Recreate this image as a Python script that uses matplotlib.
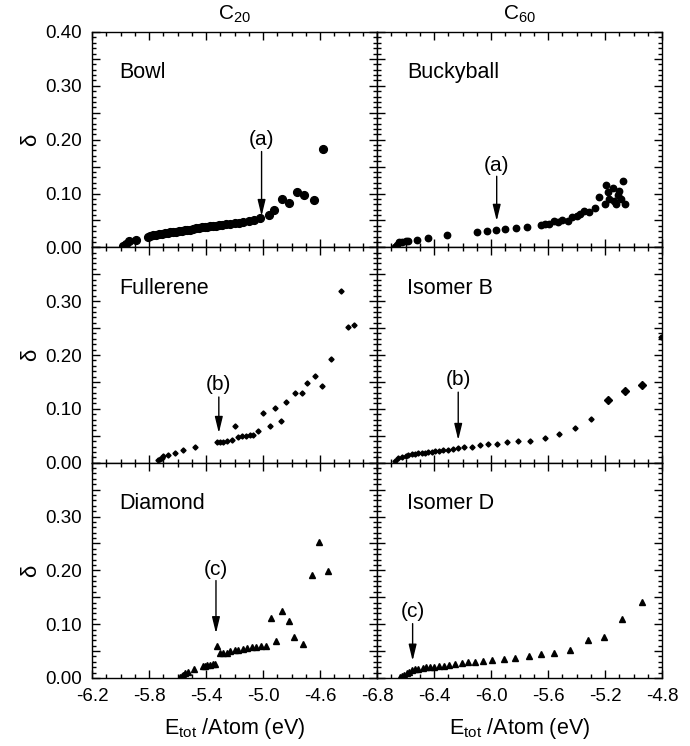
import matplotlib
matplotlib.use('Agg')
import matplotlib.pyplot as plt
from matplotlib.ticker import FixedLocator, MultipleLocator, FuncFormatter

plt.rcParams['font.family'] = ['Liberation Sans', 'DejaVu Sans']
plt.rcParams['mathtext.fontset'] = 'custom'
plt.rcParams['mathtext.rm'] = 'Liberation Sans'
plt.rcParams['mathtext.it'] = 'Liberation Sans:italic'
plt.rcParams['mathtext.default'] = 'regular'
plt.rcParams['axes.unicode_minus'] = False

# ---------------- data ----------------
bowl_x = [-5.98, -5.96, -5.94, -5.89, -5.81, -5.79, -5.77, -5.75, -5.73, -5.71, -5.69, -5.67,
          -5.65, -5.63, -5.61, -5.59, -5.57, -5.55, -5.53, -5.51, -5.49, -5.47, -5.45, -5.43,
          -5.41, -5.39, -5.37, -5.35, -5.33, -5.31, -5.29, -5.26, -5.23, -5.20, -5.17, -5.14,
          -5.10, -5.06, -5.02, -4.96, -4.92, -4.87, -4.82, -4.76, -4.71, -4.64, -4.58]
bowl_y = [0.003, 0.007, 0.012, 0.014, 0.020, 0.021, 0.022, 0.023, 0.024, 0.025, 0.026, 0.027,
          0.028, 0.029, 0.029, 0.030, 0.031, 0.032, 0.033, 0.033, 0.034, 0.035, 0.036, 0.037,
          0.037, 0.038, 0.039, 0.040, 0.040, 0.041, 0.042, 0.043, 0.044, 0.045, 0.046, 0.047,
          0.048, 0.050, 0.054, 0.060, 0.069, 0.089, 0.082, 0.103, 0.097, 0.087, 0.182]

bucky_x = [-6.674, -6.66, -6.645, -6.627, -6.60, -6.58, -6.517, -6.44, -6.31, -6.096, -6.03,
           -5.967, -5.90, -5.825, -5.75, -5.65, -5.62, -5.59, -5.558, -5.53, -5.50, -5.46,
           -5.43, -5.40, -5.375, -5.345, -5.31, -5.27, -5.24, -5.20, -5.19, -5.18, -5.17,
           -5.146, -5.134, -5.125, -5.106, -5.10, -5.09, -5.074, -5.06]
bucky_y = [0.000, 0.005, 0.009, 0.0105, 0.011, 0.012, 0.014, 0.017, 0.022, 0.029, 0.031,
           0.033, 0.034, 0.036, 0.038, 0.041, 0.043, 0.044, 0.048, 0.047, 0.051, 0.048,
           0.056, 0.059, 0.061, 0.068, 0.065, 0.073, 0.094, 0.080, 0.115, 0.103, 0.090,
           0.110, 0.086, 0.080, 0.097, 0.104, 0.089, 0.124, 0.081]

full_x = [-5.734, -5.723, -5.71, -5.70, -5.664, -5.617, -5.56, -5.477, -5.32, -5.30, -5.278,
          -5.255, -5.22, -5.20, -5.178, -5.15, -5.12, -5.09, -5.068, -5.033, -4.998, -4.95,
          -4.916, -4.874, -4.84, -4.775, -4.726, -4.689, -4.635, -4.584, -4.525, -4.455,
          -4.406, -4.36]
full_y = [0.005, 0.007, 0.009, 0.012, 0.015, 0.018, 0.023, 0.029, 0.038, 0.0386, 0.039,
          0.040, 0.043, 0.068, 0.048, 0.050, 0.050, 0.051, 0.052, 0.059, 0.093, 0.0685,
          0.1016, 0.078, 0.113, 0.129, 0.130, 0.148, 0.1616, 0.143, 0.192, 0.319,
          0.252, 0.256]

isoB_x = [-6.674, -6.65, -6.627, -6.60, -6.58, -6.557, -6.533, -6.51, -6.487, -6.463, -6.44,
          -6.416, -6.393, -6.365, -6.334, -6.304, -6.27, -6.234, -6.187, -6.136, -6.077,
          -6.02, -5.958, -5.888, -5.808, -5.726, -5.62, -5.525, -5.41, -5.30, -5.177,
          -5.06, -4.943, -4.81]
isoB_y = [0.0035, 0.008, 0.011, 0.0127, 0.0145, 0.0157, 0.017, 0.0176, 0.018, 0.0188, 0.020,
          0.0206, 0.021, 0.0218, 0.023, 0.024, 0.0255, 0.027, 0.029, 0.030, 0.032,
          0.034, 0.035, 0.038, 0.040, 0.041, 0.045, 0.054, 0.064, 0.082, 0.117,
          0.134, 0.144, 0.2335]

dia_x = [-5.582, -5.57, -5.56, -5.547, -5.524, -5.484, -5.42, -5.405, -5.39, -5.37, -5.353,
         -5.337, -5.325, -5.30, -5.278, -5.255, -5.23, -5.20, -5.173, -5.143, -5.115, -5.08,
         -5.05, -5.016, -4.981, -4.944, -4.911, -4.864, -4.815, -4.78, -4.717, -4.658,
         -4.607, -4.546]
dia_y = [0.001, 0.004, 0.006, 0.0086, 0.0117, 0.017, 0.022, 0.023, 0.024, 0.0247, 0.026,
         0.0265, 0.059, 0.0457, 0.046, 0.0457, 0.0506, 0.052, 0.0525, 0.0537, 0.0556, 0.0568,
         0.0574, 0.060, 0.059, 0.112, 0.0685, 0.1247, 0.106, 0.0765, 0.063, 0.191,
         0.2525, 0.199]

isoD_x = [-6.64, -6.622, -6.608, -6.59, -6.575, -6.557, -6.533, -6.51, -6.48, -6.456, -6.428,
          -6.398, -6.365, -6.33, -6.295, -6.253, -6.206, -6.16, -6.112, -6.054, -5.99,
          -5.91, -5.83, -5.733, -5.65, -5.556, -5.443, -5.32, -5.21, -5.078, -4.943]
isoD_y = [0.001, 0.0037, 0.0056, 0.0086, 0.0117, 0.014, 0.016, 0.0173, 0.0185, 0.0198, 0.021,
          0.021, 0.022, 0.0228, 0.0247, 0.026, 0.027, 0.029, 0.030, 0.032, 0.034,
          0.0358, 0.0377, 0.041, 0.044, 0.047, 0.052, 0.071, 0.076, 0.110, 0.142]

panel_names = ['Bowl', 'Buckyball', 'Fullerene', 'Isomer B', 'Diamond', 'Isomer D']
column_titles = ['C$_{20}$', 'C$_{60}$']
arrow_labels = ['(a)', '(a)', '(b)', '(b)', '(c)', '(c)']
arrow_x = [-5.01, -5.96, -5.31, -6.23, -5.33, -6.55]
arrow_tail = [0.178, 0.132, 0.122, 0.131, 0.181, 0.101]
arrow_tip = [0.058, 0.049, 0.055, 0.042, 0.083, 0.032]
arrow_text_y = [0.200, 0.152, 0.145, 0.155, 0.202, 0.124]

left_xticks = [-6.2, -5.8, -5.4, -5.0, -4.6, -4.2]
right_xticks = [-6.8, -6.4, -6.0, -5.6, -5.2, -4.8]

# ---------------- figure ----------------
fig = plt.figure(figsize=(6.9, 7.46), dpi=100)
L, R, B, T = 92 / 690, 662 / 690, 1 - 678 / 746, 1 - 32 / 746
w = (R - L) / 2
h = (T - B) / 3

axes = []
for r in range(3):
    row = []
    for c in range(2):
        ax = fig.add_axes([L + c * w, T - (r + 1) * h, w, h])
        row.append(ax)
    axes.append(row)

series = [(bowl_x, bowl_y), (bucky_x, bucky_y), (full_x, full_y),
          (isoB_x, isoB_y), (dia_x, dia_y), (isoD_x, isoD_y)]
styles = [dict(marker='o', ms=5.6), dict(marker='o', ms=4.6),
          dict(marker='D', ms=2.6), dict(marker='D', ms=2.6),
          dict(marker='^', ms=4.6), dict(marker='^', ms=4.0)]

for i, ((xs, ys), st) in enumerate(zip(series, styles)):
    r, c = divmod(i, 2)
    ax = axes[r][c]
    if i == 3:
        ax.plot(xs[:-4], ys[:-4], ls='none', color='k', mec='k', **st)
        ax.plot(xs[-4:-1], ys[-4:-1], ls='none', color='k', mec='k', marker='D', ms=4.0)
        ax.plot(xs[-1:], ys[-1:], ls='none', color='k', mec='k', **st)
    else:
        ax.plot(xs, ys, ls='none', color='k', mec='k', **st)

    if c == 0:
        ax.set_xlim(-6.2, -4.2)
        ax.xaxis.set_major_locator(FixedLocator(left_xticks))
    else:
        ax.set_xlim(-6.8, -4.8)
        ax.xaxis.set_major_locator(FixedLocator(right_xticks))
    ax.xaxis.set_minor_locator(MultipleLocator(0.1))
    ax.set_ylim(0, 0.40)
    ax.yaxis.set_major_locator(MultipleLocator(0.05))
    ax.yaxis.set_minor_locator(MultipleLocator(0.01))

    ymax_lab = 0.401 if r == 0 else 0.301

    def yfmt(v, pos, ymax_lab=ymax_lab):
        k = round(v * 100)
        if k % 10 == 0 and v < ymax_lab:
            return f'{v:.2f}'
        return ''
    ax.yaxis.set_major_formatter(FuncFormatter(yfmt))

    def xfmt(v, pos, c=c):
        if c == 0 and abs(v + 4.2) < 1e-6:
            return ''
        return f'{v:.1f}'
    ax.xaxis.set_major_formatter(FuncFormatter(xfmt))

    ax.tick_params(which='both', direction='in', top=True, right=True, labelsize=13.5,
                   width=1.0, color='k')
    ax.tick_params(which='major', length=6)
    ax.tick_params(which='minor', length=3.2)
    ax.tick_params(axis='y', pad=7)
    ax.tick_params(axis='x', pad=7)
    if c == 1:
        ax.tick_params(labelleft=False)
    if r < 2:
        ax.tick_params(labelbottom=False)
    for sp in ax.spines.values():
        sp.set_linewidth(1.0)

    ax.text(0.095 if c == 0 else 0.105, 0.81, panel_names[i], transform=ax.transAxes,
            fontsize=15.5, ha='left', va='center')

    ax.annotate('', xy=(arrow_x[i], arrow_tip[i]), xytext=(arrow_x[i], arrow_tail[i]),
                arrowprops=dict(arrowstyle='-|>,head_length=0.7,head_width=0.17',
                                mutation_scale=14, lw=1.0, color='k',
                                shrinkA=0, shrinkB=0))
    ax.text(arrow_x[i], arrow_text_y[i], arrow_labels[i], fontsize=15,
            ha='center', va='center')

    if c == 0:
        ax.set_ylabel('δ', fontsize=16, labelpad=3)
    if r == 2:
        ax.set_xlabel('E$_{tot}$ /Atom (eV)', fontsize=15.5, labelpad=8)
    if r == 0:
        ax.set_title(column_titles[c], fontsize=15, pad=9)

fig.savefig('out.png', dpi=100)
